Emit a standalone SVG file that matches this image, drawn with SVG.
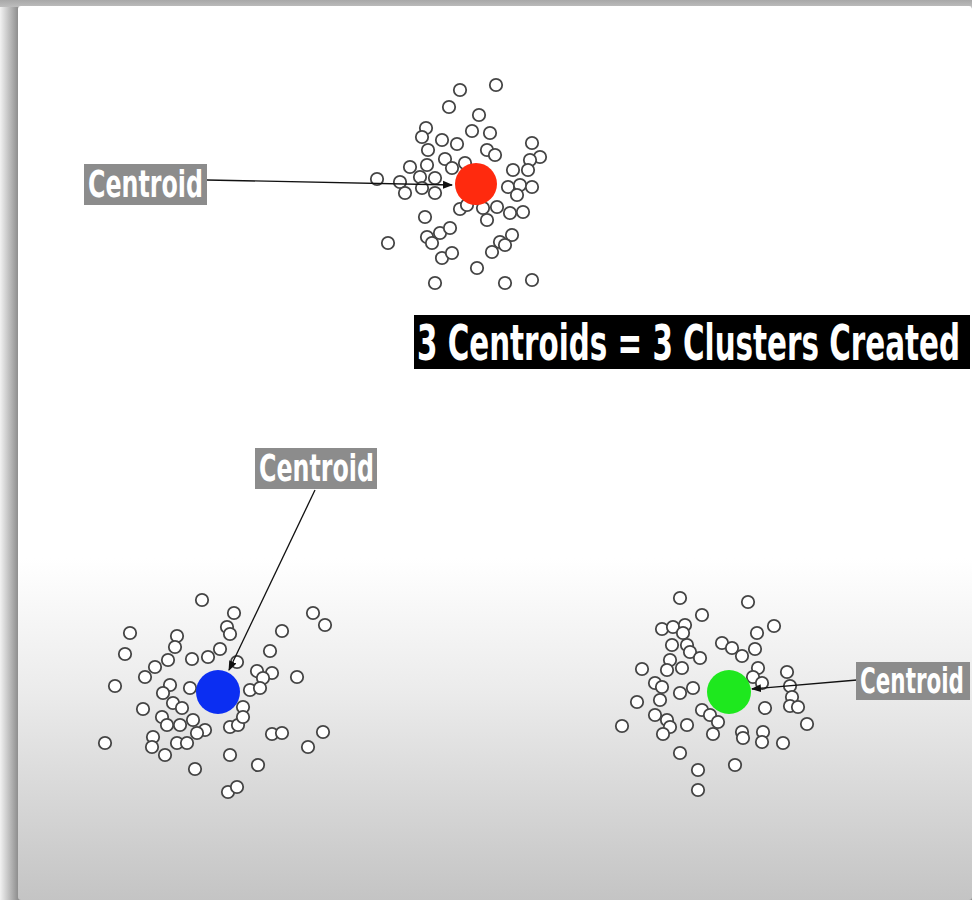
<svg xmlns="http://www.w3.org/2000/svg" width="972" height="900" viewBox="0 0 972 900">
<style>
.pt{fill:#fff;stroke:#454545;stroke-width:1.8}
.lbl{fill:#8c8c8c}
.lt{font-family:"DejaVu Sans Condensed","DejaVu Sans",sans-serif;font-weight:bold;fill:#fff}
.con{stroke:#111;stroke-width:1.3;fill:none;marker-end:url(#ah)}
</style>
<defs>
<marker id="ah" viewBox="0 0 10 10" refX="9" refY="5" markerWidth="10" markerHeight="10" markerUnits="userSpaceOnUse" orient="auto">
<path d="M0,1 L10,5 L0,9 z" fill="#111"/>
</marker>
<linearGradient id="cardg" x1="0" y1="0" x2="0" y2="900" gradientUnits="userSpaceOnUse">
<stop offset="0" stop-color="#fff"/>
<stop offset="0.62" stop-color="#fff"/>
<stop offset="0.77" stop-color="#ebebeb"/>
<stop offset="1" stop-color="#c4c4c4"/>
</linearGradient>
<linearGradient id="leftg" x1="0" y1="0" x2="18" y2="0" gradientUnits="userSpaceOnUse">
<stop offset="0" stop-color="#f2f2f2"/>
<stop offset="1" stop-color="#8e8e8e"/>
</linearGradient>
<linearGradient id="topg" x1="0" y1="0" x2="0" y2="7" gradientUnits="userSpaceOnUse">
<stop offset="0" stop-color="#a8a8a8"/>
<stop offset="1" stop-color="#bdbdbd"/>
</linearGradient>
</defs>
<rect x="0" y="0" width="972" height="900" fill="url(#leftg)"/>
<rect x="0" y="0" width="972" height="7" fill="url(#topg)"/>
<rect x="18" y="6" width="954" height="894" rx="3" fill="url(#cardg)"/>

<g id="cluster-red">
<circle class="pt" cx="460" cy="90" r="6.2"/><circle class="pt" cx="496" cy="85" r="6.2"/><circle class="pt" cx="449" cy="107" r="6.2"/><circle class="pt" cx="479" cy="115" r="6.2"/><circle class="pt" cx="426" cy="128" r="6.2"/><circle class="pt" cx="422" cy="137" r="6.2"/><circle class="pt" cx="442" cy="140" r="6.2"/><circle class="pt" cx="457" cy="144" r="6.2"/><circle class="pt" cx="472" cy="131" r="6.2"/><circle class="pt" cx="490" cy="133" r="6.2"/><circle class="pt" cx="532" cy="143" r="6.2"/><circle class="pt" cx="540" cy="157" r="6.2"/><circle class="pt" cx="530" cy="160" r="6.2"/><circle class="pt" cx="487" cy="150" r="6.2"/><circle class="pt" cx="495" cy="155" r="6.2"/><circle class="pt" cx="428" cy="150" r="6.2"/><circle class="pt" cx="445" cy="159" r="6.2"/><circle class="pt" cx="465" cy="163" r="6.2"/><circle class="pt" cx="410" cy="167" r="6.2"/><circle class="pt" cx="427" cy="165" r="6.2"/><circle class="pt" cx="377" cy="179" r="6.2"/><circle class="pt" cx="400" cy="182" r="6.2"/><circle class="pt" cx="420" cy="177" r="6.2"/><circle class="pt" cx="435" cy="178" r="6.2"/><circle class="pt" cx="405" cy="193" r="6.2"/><circle class="pt" cx="422" cy="188" r="6.2"/><circle class="pt" cx="435" cy="193" r="6.2"/><circle class="pt" cx="452" cy="168" r="6.2"/><circle class="pt" cx="513" cy="170" r="6.2"/><circle class="pt" cx="528" cy="170" r="6.2"/><circle class="pt" cx="508" cy="187" r="6.2"/><circle class="pt" cx="520" cy="185" r="6.2"/><circle class="pt" cx="532" cy="187" r="6.2"/><circle class="pt" cx="517" cy="195" r="6.2"/><circle class="pt" cx="460" cy="209" r="6.2"/><circle class="pt" cx="467" cy="205" r="6.2"/><circle class="pt" cx="483" cy="208" r="6.2"/><circle class="pt" cx="497" cy="207" r="6.2"/><circle class="pt" cx="510" cy="213" r="6.2"/><circle class="pt" cx="523" cy="212" r="6.2"/><circle class="pt" cx="487" cy="220" r="6.2"/><circle class="pt" cx="425" cy="217" r="6.2"/><circle class="pt" cx="427" cy="237" r="6.2"/><circle class="pt" cx="440" cy="233" r="6.2"/><circle class="pt" cx="450" cy="228" r="6.2"/><circle class="pt" cx="432" cy="243" r="6.2"/><circle class="pt" cx="388" cy="243" r="6.2"/><circle class="pt" cx="512" cy="235" r="6.2"/><circle class="pt" cx="500" cy="242" r="6.2"/><circle class="pt" cx="492" cy="252" r="6.2"/><circle class="pt" cx="505" cy="245" r="6.2"/><circle class="pt" cx="442" cy="258" r="6.2"/><circle class="pt" cx="452" cy="253" r="6.2"/><circle class="pt" cx="477" cy="268" r="6.2"/><circle class="pt" cx="435" cy="283" r="6.2"/><circle class="pt" cx="505" cy="283" r="6.2"/><circle class="pt" cx="532" cy="280" r="6.2"/>
</g>
<g id="cluster-blue">
<circle class="pt" cx="202" cy="600" r="6.2"/><circle class="pt" cx="234" cy="613" r="6.2"/><circle class="pt" cx="313" cy="613" r="6.2"/><circle class="pt" cx="325" cy="625" r="6.2"/><circle class="pt" cx="130" cy="633" r="6.2"/><circle class="pt" cx="227" cy="627" r="6.2"/><circle class="pt" cx="230" cy="634" r="6.2"/><circle class="pt" cx="282" cy="631" r="6.2"/><circle class="pt" cx="177" cy="636" r="6.2"/><circle class="pt" cx="175" cy="647" r="6.2"/><circle class="pt" cx="125" cy="654" r="6.2"/><circle class="pt" cx="270" cy="651" r="6.2"/><circle class="pt" cx="220" cy="649" r="6.2"/><circle class="pt" cx="192" cy="659" r="6.2"/><circle class="pt" cx="208" cy="657" r="6.2"/><circle class="pt" cx="168" cy="660" r="6.2"/><circle class="pt" cx="155" cy="667" r="6.2"/><circle class="pt" cx="145" cy="677" r="6.2"/><circle class="pt" cx="237" cy="662" r="6.2"/><circle class="pt" cx="257" cy="671" r="6.2"/><circle class="pt" cx="272" cy="673" r="6.2"/><circle class="pt" cx="263" cy="678" r="6.2"/><circle class="pt" cx="297" cy="677" r="6.2"/><circle class="pt" cx="115" cy="686" r="6.2"/><circle class="pt" cx="170" cy="685" r="6.2"/><circle class="pt" cx="163" cy="693" r="6.2"/><circle class="pt" cx="190" cy="688" r="6.2"/><circle class="pt" cx="250" cy="690" r="6.2"/><circle class="pt" cx="260" cy="688" r="6.2"/><circle class="pt" cx="143" cy="709" r="6.2"/><circle class="pt" cx="173" cy="703" r="6.2"/><circle class="pt" cx="182" cy="708" r="6.2"/><circle class="pt" cx="243" cy="707" r="6.2"/><circle class="pt" cx="162" cy="717" r="6.2"/><circle class="pt" cx="167" cy="725" r="6.2"/><circle class="pt" cx="180" cy="725" r="6.2"/><circle class="pt" cx="193" cy="720" r="6.2"/><circle class="pt" cx="205" cy="730" r="6.2"/><circle class="pt" cx="230" cy="727" r="6.2"/><circle class="pt" cx="238" cy="725" r="6.2"/><circle class="pt" cx="243" cy="717" r="6.2"/><circle class="pt" cx="197" cy="733" r="6.2"/><circle class="pt" cx="153" cy="737" r="6.2"/><circle class="pt" cx="152" cy="747" r="6.2"/><circle class="pt" cx="165" cy="755" r="6.2"/><circle class="pt" cx="177" cy="743" r="6.2"/><circle class="pt" cx="187" cy="743" r="6.2"/><circle class="pt" cx="105" cy="743" r="6.2"/><circle class="pt" cx="272" cy="734" r="6.2"/><circle class="pt" cx="282" cy="733" r="6.2"/><circle class="pt" cx="323" cy="732" r="6.2"/><circle class="pt" cx="308" cy="747" r="6.2"/><circle class="pt" cx="230" cy="755" r="6.2"/><circle class="pt" cx="258" cy="765" r="6.2"/><circle class="pt" cx="195" cy="769" r="6.2"/><circle class="pt" cx="228" cy="792" r="6.2"/><circle class="pt" cx="237" cy="787" r="6.2"/>
</g>
<g id="cluster-green">
<circle class="pt" cx="680" cy="598" r="6.2"/><circle class="pt" cx="748" cy="602" r="6.2"/><circle class="pt" cx="702" cy="615" r="6.2"/><circle class="pt" cx="774" cy="626" r="6.2"/><circle class="pt" cx="662" cy="629" r="6.2"/><circle class="pt" cx="673" cy="627" r="6.2"/><circle class="pt" cx="685" cy="625" r="6.2"/><circle class="pt" cx="683" cy="633" r="6.2"/><circle class="pt" cx="757" cy="633" r="6.2"/><circle class="pt" cx="672" cy="645" r="6.2"/><circle class="pt" cx="687" cy="645" r="6.2"/><circle class="pt" cx="690" cy="652" r="6.2"/><circle class="pt" cx="722" cy="643" r="6.2"/><circle class="pt" cx="732" cy="648" r="6.2"/><circle class="pt" cx="742" cy="656" r="6.2"/><circle class="pt" cx="755" cy="649" r="6.2"/><circle class="pt" cx="700" cy="658" r="6.2"/><circle class="pt" cx="670" cy="660" r="6.2"/><circle class="pt" cx="682" cy="668" r="6.2"/><circle class="pt" cx="642" cy="669" r="6.2"/><circle class="pt" cx="667" cy="670" r="6.2"/><circle class="pt" cx="758" cy="668" r="6.2"/><circle class="pt" cx="787" cy="672" r="6.2"/><circle class="pt" cx="655" cy="683" r="6.2"/><circle class="pt" cx="662" cy="687" r="6.2"/><circle class="pt" cx="693" cy="688" r="6.2"/><circle class="pt" cx="680" cy="693" r="6.2"/><circle class="pt" cx="753" cy="677" r="6.2"/><circle class="pt" cx="762" cy="683" r="6.2"/><circle class="pt" cx="790" cy="686" r="6.2"/><circle class="pt" cx="792" cy="697" r="6.2"/><circle class="pt" cx="637" cy="702" r="6.2"/><circle class="pt" cx="660" cy="700" r="6.2"/><circle class="pt" cx="765" cy="708" r="6.2"/><circle class="pt" cx="790" cy="706" r="6.2"/><circle class="pt" cx="798" cy="707" r="6.2"/><circle class="pt" cx="702" cy="710" r="6.2"/><circle class="pt" cx="710" cy="715" r="6.2"/><circle class="pt" cx="718" cy="722" r="6.2"/><circle class="pt" cx="655" cy="715" r="6.2"/><circle class="pt" cx="667" cy="720" r="6.2"/><circle class="pt" cx="670" cy="727" r="6.2"/><circle class="pt" cx="687" cy="725" r="6.2"/><circle class="pt" cx="807" cy="724" r="6.2"/><circle class="pt" cx="622" cy="726" r="6.2"/><circle class="pt" cx="663" cy="734" r="6.2"/><circle class="pt" cx="713" cy="734" r="6.2"/><circle class="pt" cx="742" cy="732" r="6.2"/><circle class="pt" cx="743" cy="738" r="6.2"/><circle class="pt" cx="763" cy="732" r="6.2"/><circle class="pt" cx="762" cy="742" r="6.2"/><circle class="pt" cx="783" cy="743" r="6.2"/><circle class="pt" cx="680" cy="753" r="6.2"/><circle class="pt" cx="698" cy="770" r="6.2"/><circle class="pt" cx="735" cy="765" r="6.2"/><circle class="pt" cx="698" cy="790" r="6.2"/>
</g>

<g id="centroid-red"><circle cx="476" cy="184" r="21" fill="#ff2a0e"/></g>
<g id="centroid-blue"><circle cx="218" cy="692" r="22" fill="#0b2ef2"/></g>
<g id="centroid-green"><circle cx="729" cy="692" r="22" fill="#1ee81e"/></g>

<g id="connectors">
<line class="con" x1="207" y1="180" x2="452" y2="185"/>
<line class="con" x1="315" y1="490" x2="229" y2="670"/>
<line class="con" x1="857" y1="680" x2="752" y2="689"/>
</g>

<g id="label-1">
<rect class="lbl" x="84" y="164" width="123" height="41"/>
<text class="lt" transform="translate(88,197) scale(1,1.42)" x="0" y="0" font-size="26.5" textLength="115" lengthAdjust="spacingAndGlyphs">Centroid</text>
</g>
<g id="label-2">
<rect class="lbl" x="255" y="448" width="122" height="41"/>
<text class="lt" transform="translate(259,481) scale(1,1.42)" x="0" y="0" font-size="26.5" textLength="115" lengthAdjust="spacingAndGlyphs">Centroid</text>
</g>
<g id="label-3">
<rect class="lbl" x="856" y="662" width="114" height="38"/>
<text class="lt" transform="translate(860,693) scale(1,1.45)" x="0" y="0" font-size="24" textLength="104" lengthAdjust="spacingAndGlyphs">Centroid</text>
</g>
<g id="title">
<rect x="414" y="315" width="556" height="54" fill="#000"/>
<text class="lt" transform="translate(417,360) scale(1,1.55)" x="0" y="0" font-size="32.5" textLength="543" lengthAdjust="spacingAndGlyphs">3 Centroids = 3 Clusters Created</text>
</g>
</svg>
